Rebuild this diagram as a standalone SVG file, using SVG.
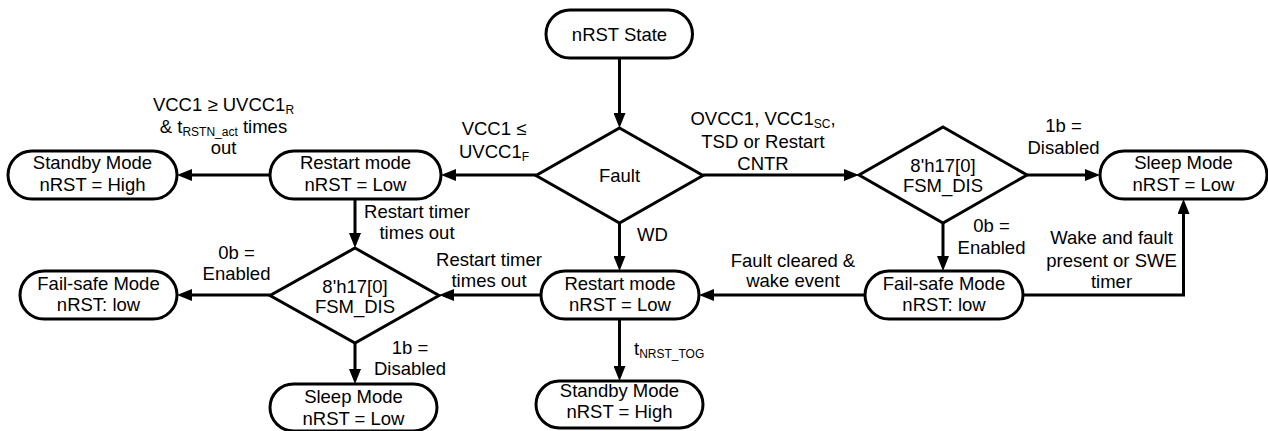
<svg xmlns="http://www.w3.org/2000/svg" width="1268" height="431" viewBox="0 0 1268 431">
<defs>
<style>
text{font-family:"Liberation Sans",Arial,sans-serif;font-size:18.5px;fill:#000;text-anchor:middle}
.l{text-anchor:start}
.sub{font-size:12px}
.n{fill:#fff;stroke:#000;stroke-width:3}
.c{fill:none;stroke:#000;stroke-width:3;marker-end:url(#ah)}
</style>
<marker id="ah" viewBox="0 0 15 12" markerWidth="15" markerHeight="12" refX="7" refY="6" orient="auto" markerUnits="userSpaceOnUse">
<path d="M0,0 L15,6 L0,12 z" fill="#000"/>
</marker>
</defs>
<rect width="1268" height="431" fill="#fff"/>
<g id="connectors">
<path class="c" d="M619.5,58 V120"/>
<path class="c" d="M536,175 H449"/>
<path class="c" d="M270,175 H185"/>
<path class="c" d="M703,175 H851"/>
<path class="c" d="M1027,175 H1092"/>
<path class="c" d="M943,223 V263"/>
<path class="c" d="M865,295 H707"/>
<path class="c" d="M1023,295 H1183.5 V207"/>
<path class="c" d="M619.5,223 V263"/>
<path class="c" d="M541,295 H447"/>
<path class="c" d="M355,199 V240"/>
<path class="c" d="M270,295 H185"/>
<path class="c" d="M355,343 V376"/>
<path class="c" d="M619.5,319 V373"/>
</g>
<g id="nrst-state">
<rect class="n" x="546" y="10" width="146.5" height="48" rx="24"/>
<text x="619.5" y="41">nRST State</text>
</g>
<g id="fault">
<polygon class="n" points="619.5,128 703,175.5 619.5,223 536,175.5"/>
<text x="619.5" y="182">Fault</text>
</g>
<g id="standby-top">
<rect class="n" x="8" y="151" width="169" height="48" rx="24"/>
<text x="92.5" y="169">Standby Mode</text>
<text x="92.5" y="191">nRST = High</text>
</g>
<g id="restart-top">
<rect class="n" x="270" y="151" width="171" height="48" rx="24"/>
<text x="355.5" y="169">Restart mode</text>
<text x="355.5" y="191">nRST = Low</text>
</g>
<g id="fsm-dis-right">
<polygon class="n" points="943,127 1027,175 943,223 859,175"/>
<text x="943" y="172">8'h17[0]</text>
<text x="943" y="192">FSM_DIS</text>
</g>
<g id="sleep-right">
<rect class="n" x="1100" y="151" width="167" height="48" rx="24"/>
<text x="1183.5" y="169">Sleep Mode</text>
<text x="1183.5" y="191">nRST = Low</text>
</g>
<g id="failsafe-right">
<rect class="n" x="865" y="271" width="158" height="48" rx="24"/>
<text x="944" y="290">Fail-safe Mode</text>
<text x="944" y="311">nRST: low</text>
</g>
<g id="restart-mid">
<rect class="n" x="541" y="271" width="158" height="48" rx="24"/>
<text x="620" y="290">Restart mode</text>
<text x="620" y="311">nRST = Low</text>
</g>
<g id="fsm-dis-left">
<polygon class="n" points="355,248 439,295.5 355,343 270,295.5"/>
<text x="355" y="293">8'h17[0]</text>
<text x="355" y="313">FSM_DIS</text>
</g>
<g id="failsafe-left">
<rect class="n" x="20" y="271" width="157" height="48" rx="24"/>
<text x="98.5" y="290">Fail-safe Mode</text>
<text x="98.5" y="311">nRST: low</text>
</g>
<g id="sleep-bottom">
<rect class="n" x="270" y="384" width="167" height="47" rx="23.5"/>
<text x="353.5" y="403">Sleep Mode</text>
<text x="353.5" y="425">nRST = Low</text>
</g>
<g id="standby-bottom">
<rect class="n" x="536" y="381" width="167" height="47" rx="23.5"/>
<text x="619.5" y="397">Standby Mode</text>
<text x="619.5" y="418">nRST = High</text>
</g>
<g id="labels">
<text x="223.5" y="110.5">VCC1 ≥ UVCC1<tspan class="sub" dy="3">R</tspan></text>
<text x="223.5" y="132.5">&amp; t<tspan class="sub" dy="3">RSTN_act</tspan><tspan dy="-3"> times</tspan></text>
<text x="223.5" y="154">out</text>
<text x="494" y="135">VCC1 ≤</text>
<text x="494" y="158">UVCC1<tspan class="sub" dy="3">F</tspan></text>
<text x="763" y="125">OVCC1, VCC1<tspan class="sub" dy="3">SC</tspan><tspan dy="-3">,</tspan></text>
<text x="763" y="148">TSD or Restart</text>
<text x="763" y="170">CNTR</text>
<text x="1063.5" y="132">1b =</text>
<text x="1063.5" y="154">Disabled</text>
<text x="991.5" y="232">0b =</text>
<text x="991.5" y="254">Enabled</text>
<text x="1111.5" y="244">Wake and fault</text>
<text x="1111.5" y="266.5">present or SWE</text>
<text x="1111.5" y="288">timer</text>
<text x="793" y="266.5">Fault cleared &amp;</text>
<text x="793" y="287">wake event</text>
<text x="489" y="266">Restart timer</text>
<text x="489" y="287">times out</text>
<text class="l" x="637" y="241">WD</text>
<text x="417" y="218">Restart timer</text>
<text x="417" y="239">times out</text>
<text x="236.5" y="259">0b =</text>
<text x="236.5" y="280">Enabled</text>
<text x="410" y="354">1b =</text>
<text x="410" y="375">Disabled</text>
<text class="l" x="634" y="355">t<tspan class="sub" dy="3">NRST_TOG</tspan></text>
</g>
</svg>
